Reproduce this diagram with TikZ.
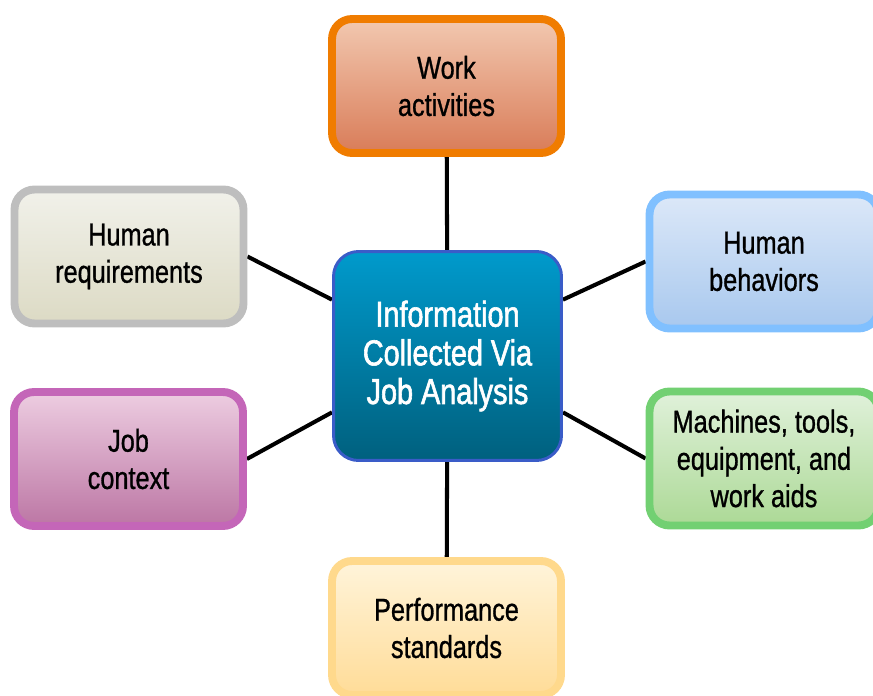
\documentclass[tikz,border=0pt]{standalone}
\usepackage{fontspec}
\setmainfont{Liberation Sans}[FakeStretch=0.8,FakeBold=0.9]
\newfontfamily\infofont{Liberation Sans}[FakeStretch=0.8,FakeBold=1.6]
\usetikzlibrary{backgrounds}

\definecolor{workline}{HTML}{F07C00}
\definecolor{worktop}{HTML}{F2C8B0}
\definecolor{workbot}{HTML}{D97C58}
\definecolor{infoline}{HTML}{3A5CC8}
\definecolor{infotop}{HTML}{009ACC}
\definecolor{infobot}{HTML}{00607E}
\definecolor{reqline}{HTML}{BEBEBE}
\definecolor{reqtop}{HTML}{F1F1EA}
\definecolor{reqbot}{HTML}{DCDAC4}
\definecolor{behline}{HTML}{80C0FF}
\definecolor{behtop}{HTML}{DCE8F8}
\definecolor{behbot}{HTML}{A8C8EE}
\definecolor{ctxline}{HTML}{C466B8}
\definecolor{ctxtop}{HTML}{EDCDE1}
\definecolor{ctxbot}{HTML}{BC76A4}
\definecolor{machline}{HTML}{72D072}
\definecolor{machtop}{HTML}{E0F1DA}
\definecolor{machbot}{HTML}{ACD996}
\definecolor{perfline}{HTML}{FFD98C}
\definecolor{perftop}{HTML}{FFF4DA}
\definecolor{perfbot}{HTML}{FFDC98}

\begin{document}
\begin{tikzpicture}[x=0.02cm,y=-0.02cm,
		box/.style={rounded corners=0.4cm,line width=4.5pt,minimum width=4.58cm,
			minimum height=2.68cm,align=center,text=black,font=\fontsize{18}{21.2}\selectfont},
		link/.style={line width=2.3pt,black}]
			\useasboundingbox (0,0) rectangle (873,696);
			\clip (0,0) rectangle (873,696);
			% middle
			\node[box,rounded corners=0.5cm,line width=1.7pt,draw=infoline,top color=infotop,
				bottom color=infobot,text=white,minimum width=4.56cm,minimum height=4.18cm,
				font=\infofont\fontsize{20.5}{22}\selectfont]
				(info) at (447.5,356) {Information\\Collected Via\\Job Analysis};
			% round it
			\node[box,draw=workline,top color=worktop,bottom color=workbot] (work) at (446.5,86) {Work\\activities};
			\node[box,draw=reqline,top color=reqtop,bottom color=reqbot] (req) at (129,256.5) {Human\\requirements};
			\node[box,draw=behline,top color=behtop,bottom color=behbot] (beh) at (764,261.5) {Human\\behaviors};
			\node[box,draw=ctxline,top color=ctxtop,bottom color=ctxbot] (ctx) at (128.5,459) {Job\\context};
			\node[box,draw=machline,top color=machtop,bottom color=machbot] (mach) at (764,458.5) {Machines, tools,\\equipment, and\\work aids};
			\node[box,draw=perfline,top color=perftop,bottom color=perfbot] (perf) at (446.5,628) {Performance\\standards};
			% links
			\begin{scope}[on background layer]
			\draw[link] (info) -- (work);
			\draw[link] (info) -- (perf);
			\draw[link] (info.154) -- (req.east);
			\draw[link] (info.26) -- (beh.west);
			\draw[link] (info.206) -- (ctx.east);
			\draw[link] (info.334) -- (mach.west);
			\end{scope}
		\end{tikzpicture}
\end{document}
